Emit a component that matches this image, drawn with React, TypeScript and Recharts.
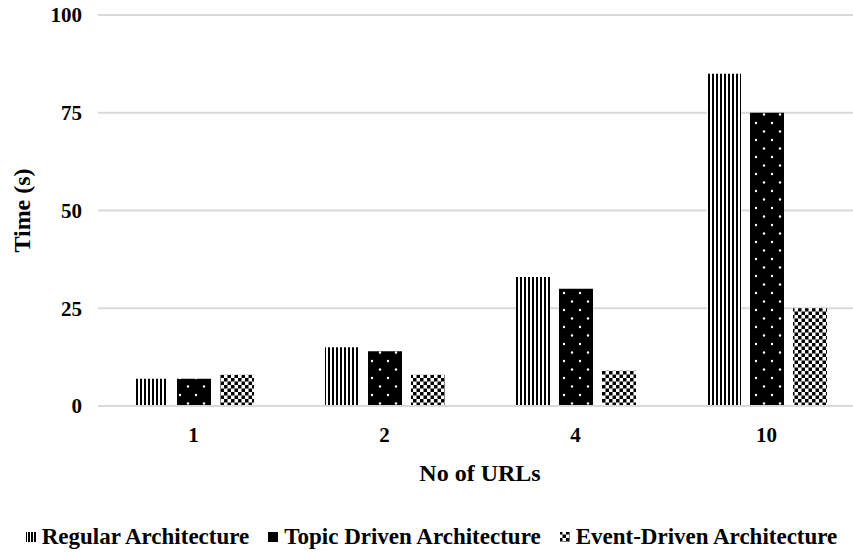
import React from "react";
import {
  BarChart,
  Bar,
  XAxis,
  YAxis,
  CartesianGrid,
  Legend,
} from "recharts";

const urls = ["1", "2", "4", "10"];
const regular = [7, 15, 33, 85];
const topicDriven = [7, 14, 30, 75];
const eventDriven = [8, 8, 9, 25];
const yTicks = [0, 25, 50, 75, 100];

const seriesNames = [
  "Regular Architecture",
  "Topic Driven Architecture",
  "Event-Driven Architecture",
];

const data = urls.map((u, i) => ({
  name: u,
  regular: regular[i],
  topic: topicDriven[i],
  event: eventDriven[i],
}));

const FONT = "'Liberation Serif', 'Times New Roman', serif";

// legend icons, small squares filled with the same patterns
const LegendIcon = ({ kind }: { kind: number }) => (
  <svg width={13} height={12} style={{ marginRight: 4 }}>
    <rect
      x={1}
      y={1}
      width={10}
      height={10}
      fill={kind === 0 ? "url(#legStripes)" : kind === 1 ? "#000" : "url(#checks)"}
    />
  </svg>
);

const CustomLegend = () => (
  <div
    style={{
      height: 26,
      display: "flex",
      justifyContent: "center",
      alignItems: "center",
      fontFamily: FONT,
      fontWeight: "bold",
      fontSize: 23,
      lineHeight: "26px",
      color: "#000",
    }}
  >
    {seriesNames.map((n, i) => (
      <span
        key={n}
        style={{ display: "flex", alignItems: "center", marginRight: i < 2 ? 18 : 0 }}
      >
        <LegendIcon kind={i} />
        {n}
      </span>
    ))}
  </div>
);

export default function App() {
  return (
    <div style={{ position: "absolute", left: 0, top: 0, width: 853, height: 553, overflow: "hidden" }}>
      <BarChart
        width={862}
        height={553}
        data={data}
        margin={{ top: 15, right: 0, left: 0, bottom: 41 }}
        barCategoryGap={36}
        barGap={9}
      >
        <defs>
          <pattern id="stripes" width={4} height={10} patternUnits="userSpaceOnUse">
            <rect x={0} y={0} width={4} height={10} fill="#fff" />
            <rect x={0} y={0} width={2} height={10} fill="#000" />
          </pattern>
          <pattern id="legStripes" width={3} height={10} patternUnits="userSpaceOnUse">
            <rect x={0} y={0} width={3} height={10} fill="#fff" />
            <rect x={0} y={0} width={2} height={10} fill="#000" />
          </pattern>
          <pattern id="dots" width={16} height={17} patternUnits="userSpaceOnUse">
            <rect x={0} y={0} width={16} height={17} fill="#000" />
            <circle cx={4} cy={4} r={1.2} fill="#fff" />
            <circle cx={12} cy={12.5} r={1.2} fill="#fff" />
          </pattern>
          <pattern id="checks" width={7} height={7} patternUnits="userSpaceOnUse">
            <rect x={0} y={0} width={7} height={7} fill="#fff" />
            <rect x={0} y={0} width={3.5} height={3.5} fill="#000" />
            <rect x={3.5} y={3.5} width={3.5} height={3.5} fill="#000" />
          </pattern>
        </defs>
        <CartesianGrid vertical={false} stroke="#d9d9d9" strokeWidth={2} />
        <XAxis
          dataKey="name"
          height={80}
          tickLine={false}
          axisLine={{ stroke: "#d9d9d9", strokeWidth: 2 }}
          tickMargin={15}
          tick={{ fill: "#000", fontFamily: FONT, fontWeight: "bold", fontSize: 21 }}
          label={{
            value: "No of URLs",
            position: "insideBottom",
            offset: 0,
            dy: -5,
            fill: "#000",
            fontFamily: FONT,
            fontWeight: "bold",
            fontSize: 24,
          }}
        />
        <YAxis
          width={98}
          domain={[0, 100]}
          ticks={yTicks}
          axisLine={false}
          tickLine={false}
          tickMargin={10}
          tick={{ fill: "#000", fontFamily: FONT, fontWeight: "bold", fontSize: 21 }}
          label={({ viewBox }: any) => {
            const cy = viewBox.y + viewBox.height / 2;
            return (
              <text
                x={22}
                y={cy}
                transform={`rotate(-90, 22, ${cy})`}
                textAnchor="middle"
                dominantBaseline="central"
                fill="#000"
                fontFamily={FONT}
                fontWeight="bold"
                fontSize={24}
              >
                Time (s)
              </text>
            );
          }}
        />
        <Legend
          verticalAlign="bottom"
          wrapperStyle={{ top: 524, bottom: "auto", height: 26 }}
          content={<CustomLegend />}
        />
        <Bar dataKey="regular" name={seriesNames[0]} fill="url(#stripes)" isAnimationActive={false} />
        <Bar dataKey="topic" name={seriesNames[1]} fill="url(#dots)" isAnimationActive={false} />
        <Bar dataKey="event" name={seriesNames[2]} fill="url(#checks)" isAnimationActive={false} />
      </BarChart>
    </div>
  );
}
